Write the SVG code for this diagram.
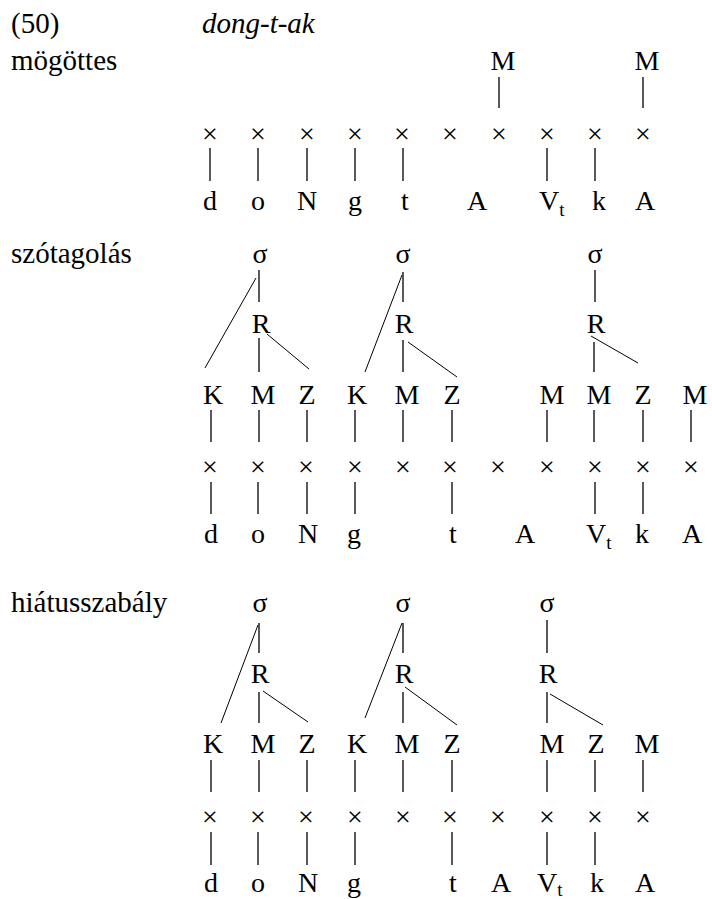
<svg xmlns="http://www.w3.org/2000/svg" width="712" height="899" viewBox="0 0 712 899">
<style>
text{font-family:"Liberation Serif","Times New Roman",serif;font-size:28px;fill:#000}
text.lbl{font-size:29px}
.m{text-anchor:middle}
.sub{font-size:19px}
#connectors line{stroke:#000;stroke-width:1.3}
#connectors line.d{stroke-width:1}
</style>
<rect width="712" height="899" fill="#fff"/>
<g id="labels">
<g id="lbl-50"><text class="lbl" x="11" y="33">(50)</text></g>
<g id="lbl-word"><text class="lbl" font-style="italic" x="202" y="33">dong-t-ak</text></g>
<g id="lbl-mogottes"><text class="lbl" x="11" y="70">mögöttes</text></g>
<g id="lbl-szotag"><text class="lbl" x="11" y="263">szótagolás</text></g>
<g id="lbl-hiatus"><text class="lbl" x="11" y="612">hiátusszabály</text></g>
</g>
<g id="sec1">
<g id="s1-M1"><text class="m" x="503" y="70">M</text></g>
<g id="s1-M2"><text class="m" x="647" y="70">M</text></g>
<g id="s1-x">
<text class="m" x="210" y="143">×</text><text class="m" x="258" y="143">×</text><text class="m" x="307" y="143">×</text><text class="m" x="355" y="143">×</text><text class="m" x="402" y="143">×</text><text class="m" x="450" y="143">×</text><text class="m" x="499" y="143">×</text><text class="m" x="547" y="143">×</text><text class="m" x="595" y="143">×</text><text class="m" x="643" y="143">×</text>
</g>
<g id="s1-seg">
<text class="m" x="210" y="210">d</text><text class="m" x="258" y="210">o</text><text class="m" x="307" y="210">N</text><text class="m" x="355" y="210">g</text><text class="m" x="405" y="210">t</text><text class="m" x="477" y="210">A</text><text x="539" y="210">V<tspan class="sub" dy="6">t</tspan></text><text class="m" x="599" y="210">k</text><text class="m" x="645" y="210">A</text>
</g>
</g>
<g id="sec2">
<g id="s2-sigma"><text class="m" x="260" y="263">σ</text><text class="m" x="403" y="263">σ</text><text class="m" x="595" y="263">σ</text></g>
<g id="s2-R"><text class="m" x="261" y="333">R</text><text class="m" x="404" y="333">R</text><text class="m" x="596" y="333">R</text></g>
<g id="s2-KMZ">
<text class="m" x="213" y="404">K</text><text class="m" x="263" y="404">M</text><text class="m" x="307" y="404">Z</text><text class="m" x="357" y="404">K</text><text class="m" x="407" y="404">M</text><text class="m" x="452" y="404">Z</text><text class="m" x="552" y="404">M</text><text class="m" x="599" y="404">M</text><text class="m" x="643" y="404">Z</text><text class="m" x="695" y="404">M</text>
</g>
<g id="s2-x">
<text class="m" x="210" y="476">×</text><text class="m" x="258" y="476">×</text><text class="m" x="306" y="476">×</text><text class="m" x="355" y="476">×</text><text class="m" x="403" y="476">×</text><text class="m" x="450" y="476">×</text><text class="m" x="498" y="476">×</text><text class="m" x="547" y="476">×</text><text class="m" x="595" y="476">×</text><text class="m" x="643" y="476">×</text><text class="m" x="691" y="476">×</text>
</g>
<g id="s2-seg">
<text class="m" x="211" y="543">d</text><text class="m" x="258" y="543">o</text><text class="m" x="308" y="543">N</text><text class="m" x="354" y="543">g</text><text class="m" x="453" y="543">t</text><text class="m" x="525" y="543">A</text><text x="586" y="543">V<tspan class="sub" dy="6">t</tspan></text><text class="m" x="642" y="543">k</text><text class="m" x="692" y="543">A</text>
</g>
</g>
<g id="sec3">
<g id="s3-sigma"><text class="m" x="260" y="612">σ</text><text class="m" x="403" y="612">σ</text><text class="m" x="547" y="612">σ</text></g>
<g id="s3-R"><text class="m" x="260" y="683">R</text><text class="m" x="404" y="683">R</text><text class="m" x="548" y="683">R</text></g>
<g id="s3-KMZ">
<text class="m" x="213" y="753">K</text><text class="m" x="263" y="753">M</text><text class="m" x="307" y="753">Z</text><text class="m" x="357" y="753">K</text><text class="m" x="407" y="753">M</text><text class="m" x="452" y="753">Z</text><text class="m" x="552" y="753">M</text><text class="m" x="596" y="753">Z</text><text class="m" x="647" y="753">M</text>
</g>
<g id="s3-x">
<text class="m" x="210" y="826">×</text><text class="m" x="258" y="826">×</text><text class="m" x="306" y="826">×</text><text class="m" x="355" y="826">×</text><text class="m" x="403" y="826">×</text><text class="m" x="450" y="826">×</text><text class="m" x="498" y="826">×</text><text class="m" x="547" y="826">×</text><text class="m" x="595" y="826">×</text><text class="m" x="643" y="826">×</text>
</g>
<g id="s3-seg">
<text class="m" x="211" y="892">d</text><text class="m" x="258" y="892">o</text><text class="m" x="308" y="892">N</text><text class="m" x="354" y="892">g</text><text class="m" x="453" y="892">t</text><text class="m" x="501" y="892">A</text><text x="537" y="892">V<tspan class="sub" dy="4">t</tspan></text><text class="m" x="597" y="892">k</text><text class="m" x="645" y="892">A</text>
</g>
</g>
<g id="connectors">
<line x1="499" y1="77" x2="499" y2="108"/><line x1="643" y1="77" x2="643" y2="108"/>
<line x1="210" y1="148" x2="210" y2="181"/><line x1="258" y1="148" x2="258" y2="181"/><line x1="307" y1="148" x2="307" y2="181"/><line x1="355" y1="148" x2="355" y2="181"/><line x1="403" y1="148" x2="403" y2="181"/><line x1="547" y1="148" x2="547" y2="181"/><line x1="595" y1="148" x2="595" y2="181"/>
<line x1="259" y1="270" x2="259" y2="302"/><line x1="403" y1="272" x2="403" y2="302"/><line x1="595" y1="270" x2="595" y2="302"/>
<line class="d" x1="256" y1="278" x2="205" y2="368"/><line class="d" x1="402" y1="275" x2="365" y2="372"/>
<line x1="259" y1="338" x2="259" y2="372"/><line x1="403" y1="340" x2="403" y2="372"/><line x1="594" y1="342" x2="594" y2="372"/>
<line class="d" x1="267" y1="334" x2="309" y2="369"/><line class="d" x1="408" y1="342" x2="457" y2="377"/><line class="d" x1="591" y1="336" x2="638" y2="363"/>
<line x1="211" y1="410" x2="211" y2="442"/><line x1="259" y1="410" x2="259" y2="442"/><line x1="307" y1="410" x2="307" y2="442"/><line x1="355" y1="410" x2="355" y2="442"/><line x1="403" y1="410" x2="403" y2="442"/><line x1="452" y1="410" x2="452" y2="442"/><line x1="547" y1="410" x2="547" y2="442"/><line x1="594" y1="410" x2="594" y2="442"/><line x1="643" y1="410" x2="643" y2="442"/><line x1="691" y1="410" x2="691" y2="442"/>
<line x1="211" y1="482" x2="211" y2="514"/><line x1="258" y1="482" x2="258" y2="514"/><line x1="307" y1="482" x2="307" y2="514"/><line x1="355" y1="482" x2="355" y2="514"/><line x1="452" y1="482" x2="452" y2="514"/><line x1="595" y1="482" x2="595" y2="514"/><line x1="643" y1="482" x2="643" y2="514"/>
<line x1="259" y1="623" x2="259" y2="653"/><line x1="403" y1="623" x2="403" y2="653"/><line x1="547" y1="620" x2="547" y2="653"/>
<line class="d" x1="258" y1="625" x2="221" y2="723"/><line class="d" x1="402" y1="623" x2="365" y2="718"/>
<line x1="259" y1="692" x2="259" y2="723"/><line x1="403" y1="692" x2="403" y2="723"/><line x1="547" y1="692" x2="547" y2="723"/>
<line class="d" x1="263" y1="691" x2="308" y2="722"/><line class="d" x1="405" y1="687" x2="457" y2="725"/><line class="d" x1="550" y1="694" x2="603" y2="725"/>
<line x1="211" y1="760" x2="211" y2="792"/><line x1="259" y1="760" x2="259" y2="792"/><line x1="307" y1="760" x2="307" y2="792"/><line x1="355" y1="760" x2="355" y2="792"/><line x1="403" y1="760" x2="403" y2="792"/><line x1="452" y1="760" x2="452" y2="792"/><line x1="547" y1="760" x2="547" y2="792"/><line x1="595" y1="760" x2="595" y2="792"/><line x1="643" y1="760" x2="643" y2="792"/>
<line x1="211" y1="832" x2="211" y2="865"/><line x1="258" y1="832" x2="258" y2="865"/><line x1="307" y1="832" x2="307" y2="865"/><line x1="355" y1="832" x2="355" y2="865"/><line x1="452" y1="832" x2="452" y2="865"/><line x1="547" y1="832" x2="547" y2="865"/><line x1="595" y1="832" x2="595" y2="865"/>
</g>
</svg>
